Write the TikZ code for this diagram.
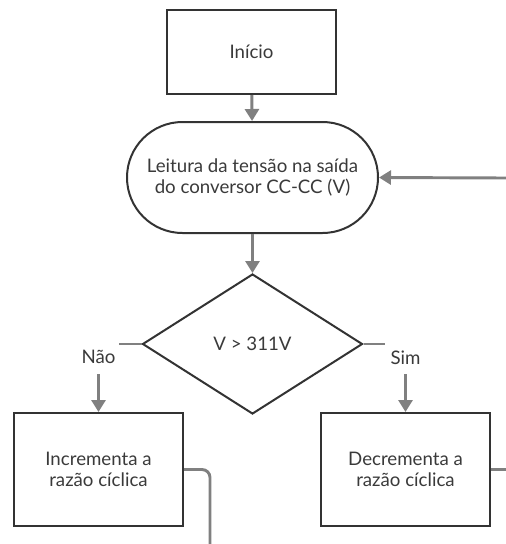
\documentclass[tikz,border=0pt]{standalone}
\usepackage{fontspec}
\setmainfont{Lato}
\usetikzlibrary{arrows.meta,shapes.geometric}
\definecolor{conn}{HTML}{808080}
\definecolor{edge}{HTML}{333333}
\definecolor{txt}{HTML}{3A3A3A}
\tikzset{
  base/.style={draw=edge, line width=1.5pt, text=txt, font=\fontsize{14}{15.75}\selectfont, align=center, inner sep=0pt},
  procbox/.style={base, rectangle, minimum width=126.75pt, minimum height=63pt},
  actbox/.style={base, rectangle, minimum width=126.75pt, minimum height=84.75pt},
  termbox/.style={base, rectangle, rounded corners=41.6pt, minimum width=188.25pt, minimum height=83.25pt},
  decbox/.style={base, diamond, minimum width=165pt, minimum height=105pt},
  link/.style={draw=conn, line width=2.2pt, -{Triangle[length=9pt,width=10.5pt]}},
  plain/.style={draw=conn, line width=2.2pt},
  lbl/.style={fill=white, text=txt, font=\fontsize{14}{15.75}\selectfont, minimum width=31pt, minimum height=25pt, inner sep=0pt}
}
\begin{document}
\begin{tikzpicture}[x=0.75pt,y=-0.75pt]
\useasboundingbox (0,0) rectangle (506,544);
\node[procbox] (inicio) at (251.5,52) {Início};
\node[termbox] (leitura) at (252.5,177.5) {Leitura da tensão na saída\\do conversor CC-CC (V)};
\node[decbox] (teste) at (252.5,344) {V > 311V};
\node[actbox] (inc) at (98.5,469.5) {Incrementa a\\razão cíclica};
\node[actbox] (decr) at (405.5,469.5) {Decrementa a\\razão cíclica};
\coordinate (loopin) at (506,178);
\coordinate (loopout) at (506,469.5);
\coordinate (down) at (210,544);
\draw[link] (inicio) -- (leitura);
\draw[link] (leitura) -- (teste);
\draw[link] (teste.west) -| node[lbl, yshift=-10pt]{Não} (inc.north);
\draw[link] (teste.east) -| node[lbl, yshift=-10pt]{Sim} (decr.north);
\draw[plain, rounded corners=6pt] (inc.east) -| (down);
\draw[plain] (decr.east) -- (loopout);
\draw[link] (loopin) -- (leitura.east);
\end{tikzpicture}
\end{document}
